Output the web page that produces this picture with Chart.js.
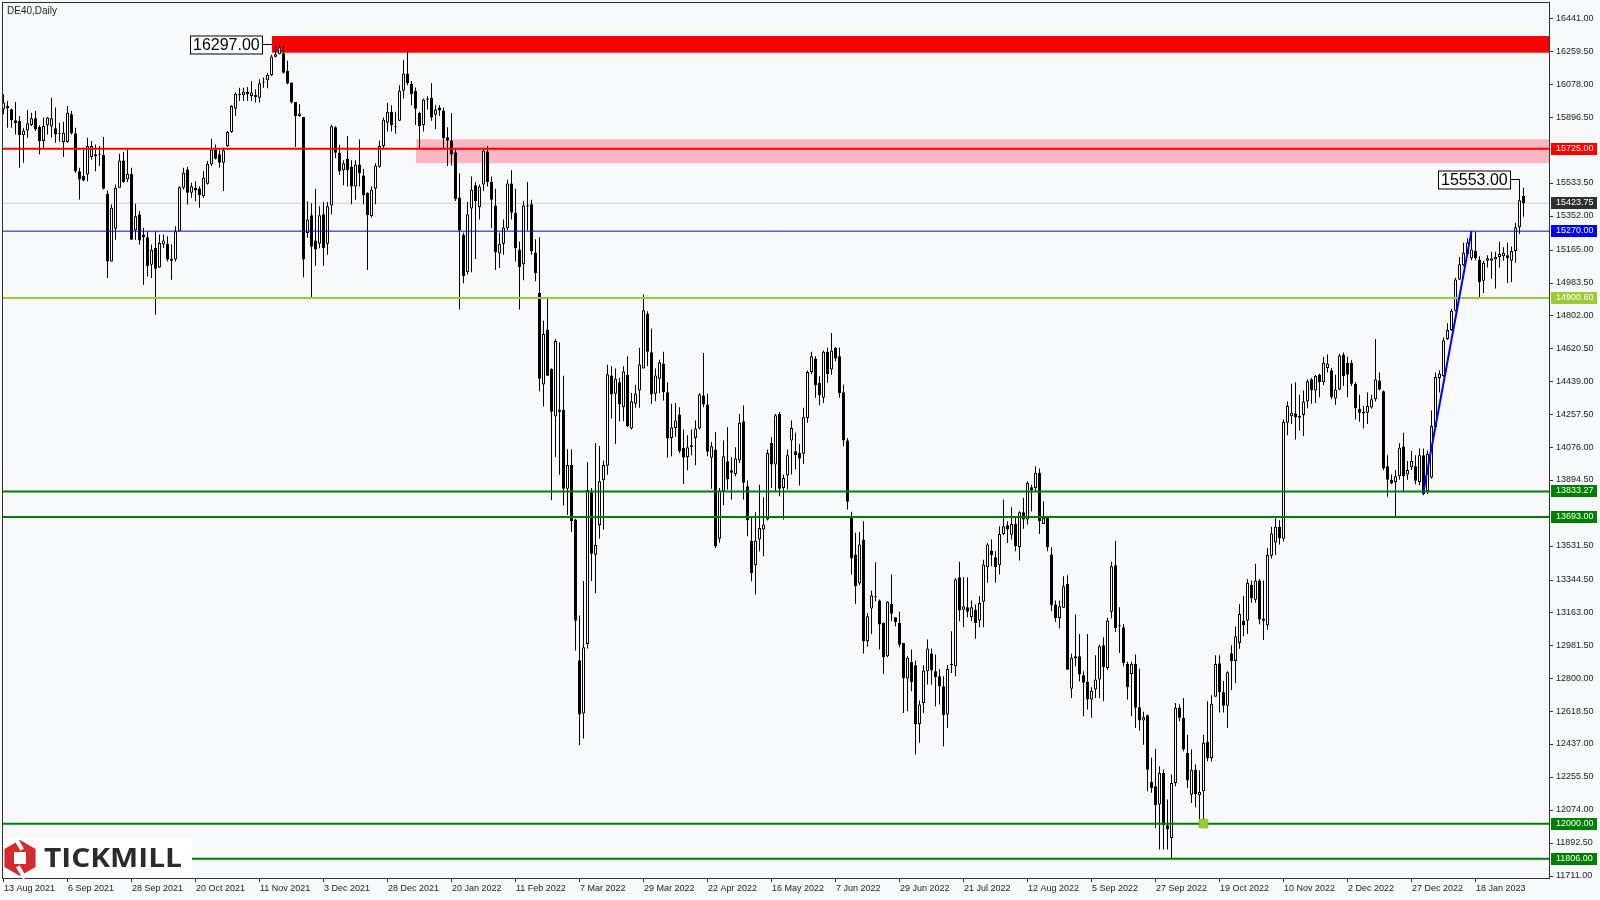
<!DOCTYPE html>
<html>
<head>
<meta charset="utf-8">
<title>DE40, Daily</title>
<script src="https://cdn.jsdelivr.net/npm/chart.js@4.4.0/dist/chart.umd.min.js"></script>
<style>
  html, body { margin: 0; padding: 0; background: #f8f9fb; }
  #chart { display: block; }
</style>
</head>
<body>
<canvas id="chart" width="1600" height="900"></canvas>
<script>
// time axis labels, one every 16 bars
const tickLabels = ['13 Aug 2021','6 Sep 2021','28 Sep 2021','20 Oct 2021','11 Nov 2021','3 Dec 2021',
  '28 Dec 2021','20 Jan 2022','11 Feb 2022','7 Mar 2022','29 Mar 2022','22 Apr 2022','16 May 2022',
  '7 Jun 2022','29 Jun 2022','21 Jul 2022','12 Aug 2022','5 Sep 2022','27 Sep 2022','19 Oct 2022',
  '10 Nov 2022','2 Dec 2022','27 Dec 2022','18 Jan 2023'];
const yTicks = [16441,16259.5,16078,15896.5,15533.5,15352,15165,14983.5,14802,14620.5,14439,14257.5,
  14076,13894.5,13531.5,13344.5,13163,12981.5,12800,12618.5,12437,12255.5,12074,11892.5,11711];

// daily candles, DE40
const opens = [
15943,15948,15943,15882,15878,15801,15826,15856,15893,15845,
15767,15854,15847,15838,15813,15762,15762,15915,15810,15601,
15574,15583,15679,15684,15694,15690,15476,15103,15284,15509,
15660,15555,15587,15275,15362,15251,15237,15085,15177,15070,
15196,15201,15116,15113,15269,15509,15611,15482,15509,15506,
15463,15531,15638,15721,15694,15648,15740,15817,15946,16022,
16020,16039,16016,16011,16007,16096,16103,16131,16232,16247,
16252,16155,16090,15983,15906,15900,15260,15358,15218,15201,
15363,15201,15412,15844,15703,15606,15669,15625,15516,15638,
15577,15480,15354,15504,15625,15740,15868,15929,15844,15880,
16045,16140,16082,16043,15922,15856,15995,16007,15912,15953,
15936,15788,15771,15706,15456,15249,15043,15395,15524,15402,
15528,15710,15541,15412,15147,15201,15286,15533,15371,15169,
15087,15407,15419,15152,14929,14424,14727,14509,14247,14273,
14285,13848,13980,13678,12902,12608,12991,13829,13484,13647,
13897,13975,14473,14372,14436,14298,14478,14181,14318,14390,
14512,14815,14602,14372,14456,14539,14381,14129,14184,14258,
14074,14024,14088,14129,14181,14363,14313,14019,14065,13573,
13835,14000,13951,13930,14004,14221,13862,13562,13426,13568,
13623,13678,14101,13982,14261,13853,13921,14114,14055,14046,
14041,14239,14493,14567,14433,14350,14604,14506,14626,14580,
14381,14114,13687,13485,13325,13568,13007,13187,13255,13231,
13108,12924,13213,13139,13108,12997,12801,12893,12874,12550,
12666,12841,12939,12841,12813,12758,12602,12882,12869,13360,
13181,13194,13141,13181,13121,13224,13415,13507,13470,13426,
13599,13647,13595,13654,13526,13719,13678,13857,13853,13936,
13654,13687,13485,13209,13135,13191,13323,12745,12911,12924,
12819,12782,12685,12740,12795,12985,12859,13169,13426,13095,
13084,12882,12826,12882,12642,12569,12598,12230,12206,12105,
12280,11991,11921,12225,12639,12584,12390,12160,12298,12157,
12179,12451,12362,12700,12885,12725,12651,12940,12898,12997,
13120,13120,13318,13236,13342,13132,13095,13478,13552,13639,
13572,14213,14248,14263,14250,14255,14330,14453,14391,14478,
14436,14515,14502,14347,14396,14589,14544,14544,14428,14288,
14273,14268,14297,14342,14446,14386,13972,13898,13885,13917,
14082,13927,13967,13972,13885,14033,13836,13910,14189,14460,
14470,14675,14725,14831,15003,15082,15144,15120,15161,15112,
14996,15107,15107,15114,15127,15132,15137,15107,15161,15292,
15465];
const highs = [
16026,15989,15945,15983,15906,15841,15939,15924,15933,15854,
15897,15900,16007,15952,15869,15874,15961,15933,15841,15620,
15731,15786,15767,15749,15740,15790,15494,15417,15528,15697,
15708,15721,15620,15421,15380,15288,15269,15196,15269,15251,
15251,15242,15196,15297,15518,15620,15624,15537,15546,15518,
15601,15657,15780,15749,15716,15731,15823,15965,16035,16062,
16062,16066,16099,16053,16109,16118,16145,16243,16287,16297,
16290,16210,16090,15983,15970,15900,15435,15424,15504,15407,
15431,15431,15856,15849,15747,15662,15795,15662,15662,15776,
15613,15485,15516,15645,15771,15897,15978,15965,15929,16075,
16215,16265,16099,16063,15929,16002,16014,16087,15965,15965,
15953,15844,15922,15723,15589,15261,15431,15572,15541,15528,
15723,15740,15572,15504,15261,15334,15553,15606,15504,15213,
15436,15541,15443,15225,15237,14776,14897,14513,14674,14655,
14472,14067,14067,13683,13149,13339,13994,13853,14101,14084,
14004,14533,14524,14512,14460,14524,14580,14377,14423,14626,
14920,14828,14731,14512,14561,14604,14436,14317,14322,14298,
14175,14144,14175,14225,14377,14598,14372,14107,14162,13853,
14114,14188,14022,14077,14261,14308,13894,13687,13719,13871,
13801,14065,14133,14261,14272,13927,14065,14225,14157,14096,
14295,14501,14604,14580,14469,14611,14626,14708,14629,14626,
14423,14129,13721,13605,13610,13669,13163,13286,13443,13237,
13110,13228,13375,13139,13169,12997,12924,12961,12900,12679,
12874,13016,12966,12933,12854,12813,12874,13062,13356,13445,
13360,13360,13231,13209,13255,13457,13549,13568,13503,13641,
13789,13669,13746,13687,13724,13798,13890,13871,13973,13960,
13779,13687,13526,13231,13231,13365,13371,12937,13154,13047,
12841,13047,12753,12929,12988,13029,13136,13445,13562,13194,
13102,12893,12893,12933,12856,12617,12602,12363,12414,12317,
12298,12133,12271,12666,12657,12694,12491,12409,12326,12293,
12491,12676,12708,12930,12930,12787,12841,12984,13088,13211,
13256,13350,13342,13434,13350,13342,13522,13639,13688,13675,
14231,14330,14428,14436,14367,14391,14453,14460,14478,14483,
14577,14589,14515,14478,14594,14601,14577,14557,14436,14367,
14305,14379,14367,14675,14490,14391,14033,13927,13952,14100,
14157,14001,14058,14033,14070,14070,14060,14280,14490,14502,
14683,14762,14841,15013,15127,15206,15231,15268,15268,15132,
15107,15137,15156,15156,15211,15181,15206,15186,15317,15553,
15510];
const lows = [
15915,15841,15841,15804,15620,15648,15786,15850,15823,15694,
15731,15804,15786,15758,15764,15679,15758,15804,15592,15445,
15546,15546,15666,15601,15629,15500,15011,15103,15223,15509,
15537,15542,15223,15223,15196,14974,15020,15011,14808,15067,
15177,15103,15002,15103,15269,15500,15417,15454,15435,15399,
15454,15528,15629,15666,15620,15491,15734,15813,15906,15989,
15989,15989,15989,15980,15980,16062,16059,16127,16228,16247,
16140,16081,15974,15734,15900,15015,15233,14904,15079,15176,
15079,15140,15363,15674,15582,15524,15516,15419,15443,15516,
15419,15055,15346,15419,15620,15723,15820,15820,15808,15880,
16002,16075,15965,15856,15727,15820,15941,15880,15832,15905,
15723,15630,15633,15436,14837,14982,15031,15043,15116,15334,
15492,15516,15286,15055,15067,15140,15273,15334,15103,14837,
14999,15273,15140,14994,14387,14302,14472,13785,14023,13926,
13756,13703,13611,12955,12433,12470,12967,13339,13271,13574,
13622,13926,14236,14096,14221,14221,14188,14175,14295,14295,
14512,14524,14317,14331,14377,14335,14019,14028,14135,14046,
13875,13951,14033,13978,14175,14298,14028,13849,13522,13550,
13757,13844,13789,13917,13991,13789,13586,13338,13264,13503,
13476,13673,13853,13835,13807,13678,13844,13927,13954,13866,
13985,14212,14482,14350,14309,14322,14433,14478,14552,14350,
14083,13734,13375,13213,13316,12939,12976,13047,13228,12961,
12826,12918,13117,13089,12974,12611,12620,12731,12381,12446,
12611,12768,12768,12648,12657,12427,12528,12832,12813,13117,
13084,13139,13117,13021,13084,13084,13329,13421,13329,13375,
13592,13549,13568,13503,13452,13628,13651,13724,13835,13599,
13654,13503,13172,13113,13077,13191,12850,12694,12869,12786,
12593,12630,12584,12694,12694,12676,12850,13132,13058,12942,
12869,12685,12593,12528,12514,12436,12179,12170,11976,11857,
11857,11857,11806,12207,12565,12400,12197,12114,12091,11995,
11986,12345,12343,12700,12614,12614,12528,12737,12775,12965,
13034,13046,13219,13219,13100,13014,13070,13463,13483,13540,
13557,14144,14206,14120,14170,14140,14292,14317,14322,14354,
14421,14490,14342,14312,14391,14416,14354,14416,14231,14218,
14181,14206,14290,14330,14391,13950,13804,13873,13695,13898,
13836,13898,13952,13873,13867,13812,13820,13905,14184,14379,
14465,14670,14720,14826,15000,15077,15140,15110,15110,14897,
14929,15070,15008,14954,15070,15107,14984,14989,15095,15255,
15350];
const closes = [
15980,15961,15882,15867,15801,15826,15865,15893,15832,15767,
15850,15897,15893,15804,15808,15813,15924,15810,15601,15555,
15550,15740,15740,15694,15690,15504,15103,15399,15509,15660,
15542,15587,15223,15352,15218,15237,15076,15168,15063,15205,
15218,15113,15107,15269,15513,15592,15482,15518,15494,15469,
15565,15642,15721,15670,15648,15716,15817,15961,16029,16029,
16039,16026,16035,16022,16086,16090,16133,16234,16247,16284,
16145,16085,15980,15906,15920,15113,15334,15184,15169,15358,
15176,15407,15849,15703,15601,15645,15606,15516,15638,15589,
15468,15358,15499,15633,15740,15885,15929,15856,15849,16045,
16140,16087,16026,15946,15849,15997,16002,15897,15941,15936,
15783,15771,15693,15448,15273,15023,15363,15499,15436,15516,
15715,15541,15443,15152,15201,15290,15533,15371,15176,15072,
15412,15412,15159,15038,14455,14703,14472,14273,14664,14285,
13848,13980,13671,13120,12603,12974,13841,13489,13538,13890,
13980,14480,14368,14456,14313,14497,14193,14331,14374,14534,
14834,14604,14368,14473,14547,14381,14125,14188,14225,14055,
14019,14077,14079,14181,14368,14313,14052,14083,13531,13838,
14028,13899,13936,14015,14212,13881,13673,13384,13562,13632,
13651,14046,13982,14254,13849,13908,14033,14184,14033,14015,
14243,14493,14580,14420,14364,14604,14482,14611,14567,14377,
14114,13776,13463,13310,13540,13007,13145,13261,13250,13099,
12918,13224,13158,13113,12988,12804,12915,12782,12547,12657,
12845,12966,12845,12808,12758,12598,12854,12874,13347,13176,
13200,13169,13194,13108,13218,13430,13540,13481,13415,13599,
13641,13623,13654,13531,13719,13678,13881,13838,13936,13669,
13687,13526,13205,13135,13200,13310,12850,12915,12924,12823,
12777,12685,12734,12795,12979,12863,13121,13421,13080,13089,
12887,12753,12882,12639,12569,12587,12298,12197,12102,12280,
11991,11967,12225,12639,12584,12409,12238,12298,12164,12175,
12446,12359,12662,12881,12725,12651,12836,12898,13034,13157,
13095,13330,13244,13342,13127,13120,13483,13601,13639,13577,
14218,14305,14268,14243,14240,14330,14441,14391,14470,14436,
14544,14540,14354,14396,14584,14470,14478,14428,14292,14268,
14263,14305,14342,14453,14396,13960,13898,13878,13917,14075,
13917,13952,14001,13893,14033,13819,14041,14194,14465,14485,
14668,14725,14831,15003,15087,15151,15206,15169,15120,14989,
15095,15120,15120,15127,15144,15151,15120,15161,15292,15440,
15424];

// drawn objects
const levelPrices = [15725, 15270, 14900.6, 13833.27, 13693, 12000, 11806];
const lastPrice = 15423.75;
const redZone = [16255, 16347];
const redZoneStart = 67;
const pinkZone = [15645, 15777];
const pinkZoneStart = 103;
const trendBars = [355, 367];
const trendPrices = [13833.27, 15270];
const peakBars = [67, 379];
const peakPrices = [16297, 15553];
const markerBar = 300;
const markerPrice = 12000;

const X_MIN = -0.375, X_MAX = 386.375;
const Y_MIN = 11700, Y_MAX = 16534.8;
const FONT = '"Liberation Sans", Arial, sans-serif';

const idx = closes.map((_, i) => i);
const bodyData = idx.map(i => {
  let a = Math.min(opens[i], closes[i]), b = Math.max(opens[i], closes[i]);
  if (b - a < 6) { const m = (a + b) / 2; a = m - 3; b = m + 3; }
  return { x: i, y: [a, b] };
});
const wickData = idx.map(i => ({ x: i, y: [Math.min(lows[i], opens[i], closes[i]), Math.max(highs[i], opens[i], closes[i])] }));
const bodyFill = idx.map(i => closes[i] >= opens[i] ? '#ffffff' : '#000000');

function hline(v, color, width, order) {
  return { type: 'line', data: [{ x: X_MIN, y: v }, { x: X_MAX, y: v }], borderColor: color,
    borderWidth: width, pointRadius: 0, order: order };
}

const levelColors = ['#ff0000', '#0000ff', '#9acd32', '#008000', '#008000', '#008000', '#008000'];
const levelWidths = [2, 1, 2, 2, 2, 2, 2];

const overlay = {
  id: 'overlay',
  beforeDraw(chart) {
    const c = chart.ctx;
    c.save();
    c.fillStyle = '#f8f9fb';
    c.fillRect(0, 0, chart.width, chart.height);
    c.restore();
  },
  beforeDatasetsDraw(chart) {
    const { ctx: c, chartArea: a, scales: { x, y } } = chart;
    c.save();
    c.beginPath(); c.rect(a.left, a.top, a.right - a.left, a.bottom - a.top); c.clip();
    const zone = (start, z, col) => {
      const x0 = Math.round(x.getPixelForValue(start));
      const y0 = y.getPixelForValue(z[1]), y1 = y.getPixelForValue(z[0]);
      c.fillStyle = col;
      c.fillRect(x0, y0, a.right - x0, y1 - y0);
    };
    zone(pinkZoneStart, pinkZone, '#ffb6c1');
    zone(redZoneStart, redZone, '#ff0000');
    c.restore();
  },
  afterDatasetsDraw(chart) {
    const { ctx: c, scales: { x, y } } = chart;
    c.save();
    c.font = '16px ' + FONT;
    c.textBaseline = 'middle';
    peakPrices.forEach((p, k) => {
      const ax = Math.round(x.getPixelForValue(peakBars[k]));
      const ay = Math.round(y.getPixelForValue(p)) - 0.5;
      const t = p.toFixed(2);
      const w = Math.round(c.measureText(t).width) + 5;
      const bx = ax - 10 - w;
      c.fillStyle = '#ffffff';
      c.fillRect(bx, ay - 9, w, 18);
      c.strokeStyle = '#000000'; c.lineWidth = 1;
      c.strokeRect(bx + 0.5, ay - 8.5, w, 18);
      c.beginPath(); c.moveTo(bx + w, ay); c.lineTo(ax, ay); c.stroke();
      c.fillStyle = '#000000';
      c.fillText(t, bx + 3, ay + 1);
    });
    c.restore();
  },
  afterDraw(chart) {
    const { ctx: c, chartArea: a, scales: { x, y } } = chart;
    c.save();
    // frame
    c.strokeStyle = '#303030'; c.lineWidth = 1;
    c.strokeRect(a.left + 0.5, a.top + 0.5, a.right - a.left, a.bottom - a.top);
    // axis tick labels
    c.font = '9px ' + FONT;
    c.textBaseline = 'middle';
    c.fillStyle = '#1a1a1a';
    c.textAlign = 'left';
    yTicks.forEach(v => c.fillText(v.toFixed(2), a.right + 7, Math.round(y.getPixelForValue(v))));
    tickLabels.forEach((t, k) => c.fillText(t, Math.round(x.getPixelForValue(k * 16)), a.bottom + 11));
    // price badges on the axis
    const badges = [[levelPrices[0], '#ff0000'], [lastPrice, '#2f2f2f'], [levelPrices[1], '#0000ff'],
      [levelPrices[2], '#9acd32'], [levelPrices[3], '#008000'], [levelPrices[4], '#008000'],
      [levelPrices[5], '#008000'], [levelPrices[6], '#008000']];
    badges.forEach(([v, bg]) => {
      const py = Math.round(y.getPixelForValue(v));
      c.fillStyle = bg;
      c.fillRect(a.right + 2, py - 6, 46, 12);
      c.fillStyle = '#ffffff';
      c.fillText(v.toFixed(2), a.right + 7, py);
    });
    // title
    c.fillStyle = '#222222';
    c.font = '10px ' + FONT;
    c.fillText('DE40,Daily', a.left + 5, a.top + 9);
    // logo plate
    c.fillStyle = '#ffffff';
    c.fillRect(a.left + 1, a.bottom - 40, 189, 40);
    const cx = a.left + 18, cy = a.bottom - 20, R = 18;
    c.fillStyle = '#d42b30';
    c.beginPath();
    for (let k = 0; k < 6; k++) {
      const ang = Math.PI / 180 * (60 * k - 90);
      c.lineTo(cx + R * Math.cos(ang), cy + R * Math.sin(ang));
    }
    c.closePath(); c.fill();
    c.fillStyle = '#ffffff';
    c.fillRect(cx - 6, cy - 6, 12, 12);
    c.save();
    c.translate(cx, cy); c.rotate(-Math.PI / 6);
    c.fillRect(4, -R - 2, 4, R - 4);
    c.fillRect(-8, 6, 4, R - 4);
    c.restore();
    c.fillStyle = '#2b2b2b';
    c.font = 'bold 26px "Open Sans", ' + FONT;
    c.textBaseline = 'alphabetic';
    const tw = c.measureText('TICKMILL').width;
    c.save();
    c.translate(a.left + 42, a.bottom - 11);
    c.scale(138 / tw, 1);
    c.fillText('TICKMILL', 0, 0);
    c.restore();
    c.restore();
  }
};

const datasets = [
  { type: 'bar', data: bodyData, backgroundColor: bodyFill, borderColor: '#000000', borderWidth: 1,
    borderSkipped: false, barThickness: 3, grouped: false, inflateAmount: 0, order: 4 },
  { type: 'bar', data: wickData, backgroundColor: '#000000', borderWidth: 0, barThickness: 1,
    grouped: false, inflateAmount: 0, order: 5 },
  hline(lastPrice, '#d0d0d0', 1, 9)
];
levelPrices.forEach((v, k) => datasets.push(hline(v, levelColors[k], levelWidths[k], 1)));
datasets.push({ type: 'line', data: trendBars.map((b, k) => ({ x: b, y: trendPrices[k] })),
  borderColor: '#0000ff', borderWidth: 2, pointRadius: 0, order: 0 });
datasets.push({ type: 'line', data: [{ x: markerBar, y: markerPrice }], showLine: false,
  pointStyle: 'rect', pointRadius: 6, backgroundColor: '#9acd32', borderColor: '#8cbf26',
  borderWidth: 1, order: 0 });

Chart.defaults.font.family = FONT;

new Chart(document.getElementById('chart'), {
  type: 'bar',
  data: { datasets },
  options: {
    responsive: false,
    animation: false,
    devicePixelRatio: 1,
    events: [],
    layout: { autoPadding: false, padding: { left: 2, top: 2, right: 0, bottom: 0 } },
    plugins: { legend: { display: false }, tooltip: { enabled: false } },
    scales: {
      x: {
        type: 'linear', position: 'bottom', min: X_MIN, max: X_MAX, offset: false,
        grid: { drawOnChartArea: false, drawTicks: true, tickLength: 4, color: '#303030', offset: false },
        border: { display: false },
        afterBuildTicks: s => { s.ticks = tickLabels.map((_, k) => ({ value: k * 16 })); },
        afterFit: s => { s.height = 22; },
        ticks: { display: false }
      },
      y: {
        type: 'linear', position: 'right', min: Y_MIN, max: Y_MAX,
        grid: { drawOnChartArea: false, drawTicks: true, tickLength: 4, color: '#303030' },
        border: { display: false },
        afterBuildTicks: s => { s.ticks = yTicks.map(v => ({ value: v })); },
        afterFit: s => { s.width = 51; },
        ticks: { display: false }
      }
    }
  },
  plugins: [overlay]
});
</script>
</body>
</html>
